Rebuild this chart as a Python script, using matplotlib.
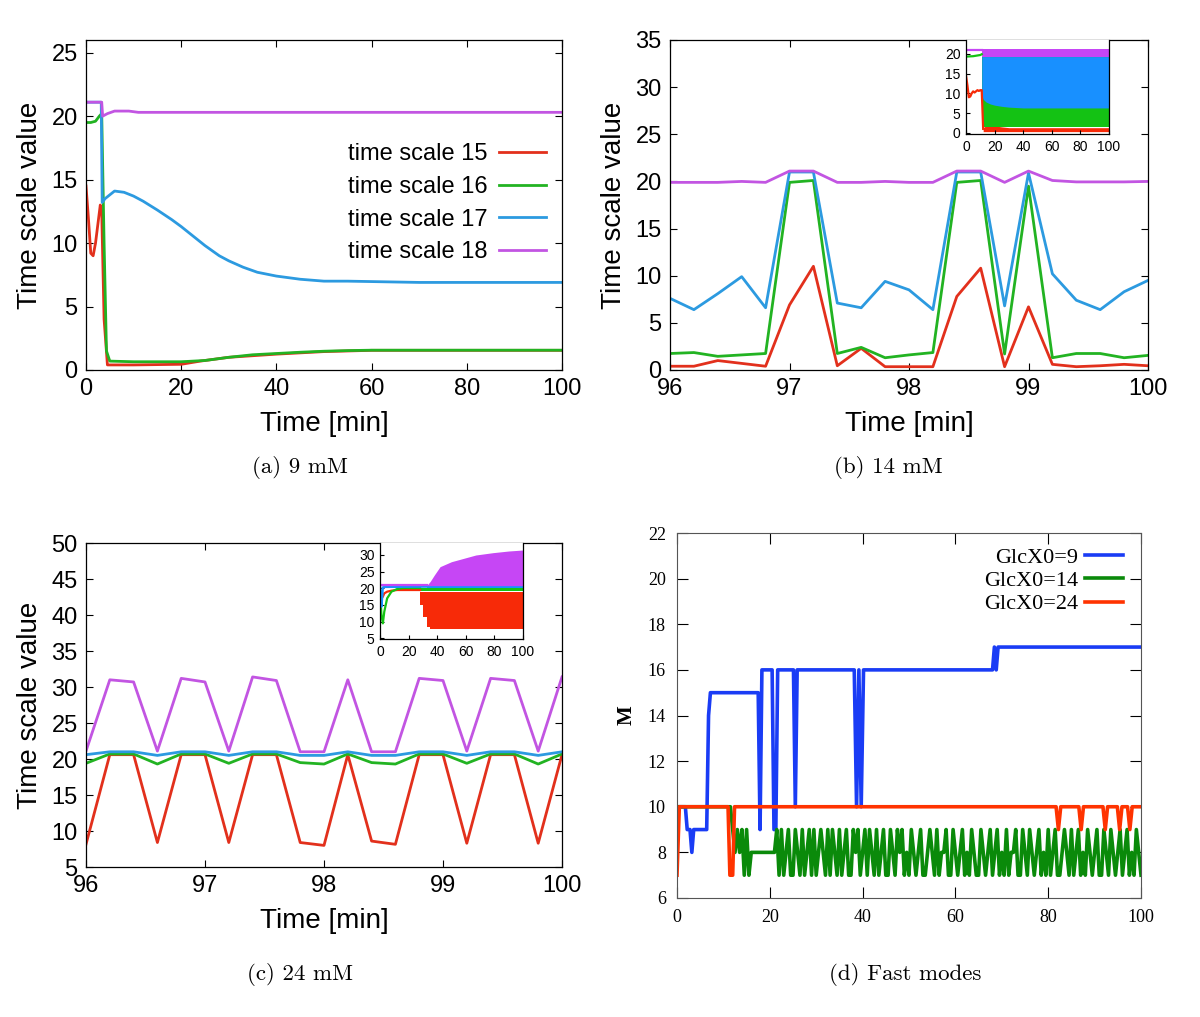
import numpy as np
import matplotlib
matplotlib.use("Agg")
import matplotlib.pyplot as plt

# ---------------- data ----------------
# (a) 9 mM, time scales 15-18 over 0..100 min
a_t15 = [0, 0.5, 1, 1.5, 2, 2.5, 3, 3.3, 3.8, 4.5, 10, 20, 24, 30, 40, 50, 60, 100]
a_v15 = [14.5, 12, 9.2, 9.0, 10, 11.5, 13, 12.5, 4, 0.4, 0.4, 0.45, 0.7, 1.0, 1.25, 1.45, 1.55, 1.55]
a_t16 = [0, 1, 2, 2.8, 3.3, 3.8, 4.3, 5, 10, 20, 25, 30, 35, 40, 45, 50, 55, 60, 70, 100]
a_v16 = [19.5, 19.5, 19.6, 20.0, 20.2, 10, 1.5, 0.7, 0.65, 0.65, 0.75, 1.0, 1.2, 1.3, 1.4, 1.48, 1.53, 1.56, 1.56, 1.56]
a_t17 = [0, 3.2, 3.4, 4, 6, 8, 10, 12, 15, 18, 20, 22, 25, 28, 30, 33, 36, 40, 45, 50, 55, 70, 100]
a_v17 = [21.1, 21.1, 13.2, 13.5, 14.1, 14.0, 13.7, 13.3, 12.6, 11.85, 11.3, 10.7, 9.8, 9.0, 8.6, 8.1, 7.7, 7.4, 7.15, 7.0, 7.0, 6.9, 6.9]
a_t18 = [0, 3.3, 3.5, 4.5, 6, 9, 11, 100]
a_v18 = [21.1, 21.1, 20.0, 20.2, 20.4, 20.4, 20.3, 20.3]

# (b) 14 mM, 96..100 min, sampled every 0.2 min
b_t = [96.0, 96.2, 96.4, 96.6, 96.8, 97.0, 97.2, 97.4, 97.6, 97.8, 98.0,
       98.2, 98.4, 98.6, 98.8, 99.0, 99.2, 99.4, 99.6, 99.8, 100.0]
b_v15 = [0.4, 0.4, 1.0, 0.7, 0.4, 6.9, 11.0, 0.45, 2.3, 0.35, 0.35,
         0.35, 7.8, 10.8, 0.35, 6.7, 0.6, 0.35, 0.45, 0.6, 0.45]
b_v16 = [1.75, 1.85, 1.45, 1.6, 1.75, 19.9, 20.1, 1.75, 2.4, 1.3, 1.6,
         1.85, 19.9, 20.1, 1.7, 19.5, 1.3, 1.75, 1.75, 1.3, 1.55]
b_v17 = [7.6, 6.4, 8.1, 9.9, 6.6, 21.0, 21.0, 7.1, 6.6, 9.4, 8.5,
         6.4, 21.0, 21.0, 6.8, 20.9, 10.2, 7.4, 6.4, 8.3, 9.5]
b_v18 = [19.9, 19.9, 19.9, 20.0, 19.9, 21.1, 21.1, 19.9, 19.9, 20.0, 19.9,
         19.9, 21.1, 21.1, 19.9, 21.1, 20.1, 19.95, 19.95, 19.95, 20.0]

# (b) inset, whole run 0..100 min (envelopes of the fast oscillation)
bi_t15 = [0, 1, 2, 3, 4, 5, 6, 7, 8, 9, 10, 11, 12]
bi_v15 = [14.5, 12, 9, 9.2, 10, 10.5, 10.2, 10.5, 10.8, 10.6, 10.8, 10.8, 1.0]
bi_band15_t = [12, 14, 19, 25, 30, 100]
bi_band15_lo = [0.3, 0.3, 0.3, 0.3, 0.3, 0.3]
bi_band15_hi = [1.3, 1.8, 1.8, 1.5, 1.3, 1.3]
bi_t16 = [0, 5, 10, 11]
bi_v16 = [19.3, 19.4, 19.7, 19.9]
bi_band16_t = [11, 100]
bi_band16_lo = [1.5, 1.5]
bi_band16_hi = [20, 20]
bi_band17_t = [11, 12, 14, 17, 20, 25, 30, 40, 60, 100]
bi_band17_lo = [9.5, 8.5, 7.8, 7.3, 7.0, 6.7, 6.5, 6.3, 6.3, 6.3]
bi_band17_hi = [19.3] * 10
bi_t18 = [0, 11]
bi_v18 = [20.9, 20.9]
bi_band18_t = [11, 100]
bi_band18_lo = [19.3, 19.3]
bi_band18_hi = [21.2, 21.2]

# (c) 24 mM, 96..100 min
c_t = b_t
c_v15 = [8.15, 20.6, 20.6, 8.4, 20.6, 20.6, 8.4, 20.6, 20.6, 8.4, 8.0,
         20.6, 8.6, 8.15, 20.6, 20.6, 8.3, 20.6, 20.6, 8.3, 20.6]
c_v16 = [19.4, 20.7, 20.7, 19.3, 20.7, 20.7, 19.4, 20.7, 20.7, 19.5, 19.3,
         20.7, 19.5, 19.3, 20.7, 20.7, 19.4, 20.7, 20.7, 19.3, 20.7]
c_v17 = [20.6, 21.0, 21.0, 20.5, 21.0, 21.0, 20.5, 21.0, 21.0, 20.5, 20.5,
         21.0, 20.5, 20.5, 21.0, 21.0, 20.5, 21.0, 21.0, 20.5, 21.0]
c_v18 = [21.1, 31.0, 30.7, 21.1, 31.2, 30.7, 21.1, 31.4, 30.9, 21.0, 21.0,
         31.0, 21.0, 21.0, 31.2, 30.9, 21.1, 31.2, 30.9, 21.1, 31.4]

# (c) inset
ci_t15 = [1, 2, 3, 5, 8, 12, 28]
ci_v15 = [17, 17.5, 18.5, 19, 19.3, 19.5, 19.5]
ci_band15_t = [28, 30.2, 30.2, 32.6, 32.6, 34.9, 34.9, 100]
ci_band15_lo = [15, 15, 11.4, 11.4, 8.4, 8.4, 7.7, 7.7]
ci_band15_hi = [19, 19, 19, 19, 19, 19, 19, 19]
ci_t16 = [0, 1, 2, 3, 5, 8, 12, 16, 28]
ci_v16 = [20, 12, 9.5, 13, 17, 19, 19.8, 20.1, 20.1]
ci_band16_t = [28, 100]
ci_band16_lo = [19.2, 19.2]
ci_band16_hi = [20.1, 20.1]
ci_t17 = [0, 0.5, 1, 1.5, 2, 3, 33]
ci_v17 = [21, 17, 14.5, 17, 20.3, 20.4, 20.5]
ci_band17_t = [33, 100]
ci_band17_lo = [20.1, 20.1]
ci_band17_hi = [20.9, 20.9]
ci_t18 = [0, 33]
ci_v18 = [20.9, 20.9]
ci_band18_t = [33, 35, 38, 42, 50, 56, 67, 79, 90, 100]
ci_band18_lo = [20.8] * 10
ci_band18_hi = [21, 22, 24, 26.5, 28, 28.7, 30, 30.7, 31.2, 31.5]

# (d) fast modes M(t)
d_t9 = [0, 1.8, 2.2, 2.8, 3.2, 3.6, 6.4, 6.8, 7.2, 17.5, 17.9, 18.3, 20.5, 20.9, 21.3, 21.7,
        25.1, 25.5, 25.9, 38.2, 38.7, 39.2, 39.7, 40.2, 68.0, 68.4, 68.8, 69.2, 100]
d_v9 = [10, 10, 9, 9, 8, 9, 9, 14, 15, 15, 9, 16, 16, 9, 9, 16,
        16, 10, 16, 16, 10, 16, 10, 16, 16, 17, 16, 17, 17]
d_v14 = ([10] * 24 + [9, 8, 9, 8, 9, 7, 9, 7, 8] + [8] * 10 +
         [9, 7, 9, 7, 8, 9, 7, 7, 9, 8,
          7, 9, 7, 8, 9, 7, 9, 7, 8, 9,
          8, 7, 9, 7, 9, 8, 7, 9, 7, 8,
          9, 7, 7, 9, 8, 9, 7, 8, 9, 7,
          9, 8, 7, 9, 7, 8, 9, 7, 7, 9,
          8, 7, 9] +
         [8, 9, 7, 8, 7, 9, 8, 7, 8, 9,
          7, 7, 8, 9, 8, 7, 9, 7, 8, 8,
          9, 7, 7, 9, 8, 7, 8, 9, 7, 8,
          7, 9, 8, 7, 7, 9, 8, 7, 8, 9,
          7, 8, 9, 7, 8, 7, 9, 7, 8, 8,
          9, 7, 7, 9, 8, 7, 9, 8, 7, 8,
          9, 7, 8, 7, 9, 7, 8, 9, 7, 7,
          8, 9, 8, 7, 9, 7, 8, 9, 7, 8,
          7, 9, 8, 7, 8, 9, 7, 7, 9, 8,
          7, 9, 8, 7, 8, 9, 7, 8, 9, 7,
          8, 7, 9, 8, 7])
d_t14 = np.arange(len(d_v14)) * 0.5
d_t24 = [0, 0.5, 11.0, 11.4, 12.0, 12.4, 81.7, 82.2, 82.7, 86.6, 87.1, 87.6,
         91.8, 92.3, 92.8, 94.9, 95.4, 95.9, 97.1, 97.6, 98.1, 100]
d_v24 = [7, 10, 10, 7, 7, 10, 10, 9, 10, 10, 9, 10,
         10, 9, 10, 10, 9, 10, 10, 9, 10, 10]

labels_ts = ["time scale 15", "time scale 16", "time scale 17", "time scale 18"]
labels_d = ["GlcX0=9", "GlcX0=14", "GlcX0=24"]
captions = ["(a) 9 mM", "(b) 14 mM", "(c) 24 mM", "(d) Fast modes"]

# ---------------- style ----------------
C15, C16, C17, C18 = "#e2301c", "#22b322", "#2c9ae0", "#c255e2"
F15, F16, F17, F18 = "#f72a08", "#14c214", "#1890ff", "#c646f5"
D9, D14, D24 = "#1a3cf5", "#0a8a0a", "#ff3300"
SANS = "Liberation Sans"
SERIF = "Liberation Serif"

W, H = 1200, 1017
fig = plt.figure(figsize=(W / 100, H / 100), dpi=100)


def px_axes(l, t, r, b):
    return fig.add_axes([l / W, 1 - b / H, (r - l) / W, (b - t) / H])


def gp_style(ax, size, family=SANS):
    ax.tick_params(direction="in", top=True, right=True, length=5, width=0.8,
                   labelsize=size, pad=6)
    for lab in ax.get_xticklabels() + ax.get_yticklabels():
        lab.set_family(family)
    for s in ax.spines.values():
        s.set_linewidth(0.9)


LW = 2.0

# ---- (a)
ax = px_axes(86, 40, 562, 370)
ax.plot(a_t15, a_v15, color=C15, lw=LW, label=labels_ts[0])
ax.plot(a_t16, a_v16, color=C16, lw=LW, label=labels_ts[1])
ax.plot(a_t17, a_v17, color=C17, lw=LW, label=labels_ts[2])
ax.plot(a_t18, a_v18, color=C18, lw=LW, label=labels_ts[3])
ax.set_xlim(0, 100)
ax.set_ylim(0, 26)
ax.set_xticks([0, 20, 40, 60, 80, 100])
ax.set_yticks([0, 5, 10, 15, 20, 25])
gp_style(ax, 17)
ax.set_xlabel("Time [min]", family=SANS, fontsize=20, labelpad=8)
ax.set_ylabel("Time scale value", family=SANS, fontsize=20, labelpad=6)
ax.legend(loc="upper left", bbox_to_anchor=(0.53, 0.715), frameon=False,
          markerfirst=False, prop={"family": SANS, "size": 17},
          handlelength=2.0, handletextpad=0.5, labelspacing=0.45,
          borderaxespad=0)
fig.text(300 / W, 1 - 467 / H, captions[0], family="cmr10", fontsize=16.5,
         ha="center", va="center")

# ---- (b)
ax = px_axes(670, 40, 1148, 370)
ax.plot(b_t, b_v15, color=C15, lw=LW)
ax.plot(b_t, b_v16, color=C16, lw=LW)
ax.plot(b_t, b_v17, color=C17, lw=LW)
ax.plot(b_t, b_v18, color=C18, lw=LW)
ax.set_xlim(96, 100)
ax.set_ylim(0, 35)
ax.set_xticks([96, 97, 98, 99, 100])
ax.set_yticks([0, 5, 10, 15, 20, 25, 30, 35])
gp_style(ax, 17)
ax.set_xlabel("Time [min]", family=SANS, fontsize=20, labelpad=8)
ax.set_ylabel("Time scale value", family=SANS, fontsize=20, labelpad=6)
fig.text(888 / W, 1 - 467 / H, captions[1], family="cmr10", fontsize=16.5,
         ha="center", va="center")

ins = px_axes(966, 40, 1109, 134)
ins.plot(bi_t15, bi_v15, color=F15, lw=1.6)
ins.fill_between(bi_band15_t, bi_band15_lo, bi_band15_hi, color=F15, lw=0)
ins.plot(bi_t16, bi_v16, color=F16, lw=1.6)
ins.fill_between(bi_band16_t, bi_band16_lo, bi_band16_hi, color=F16, lw=0)
ins.fill_between(bi_band17_t, bi_band17_lo, bi_band17_hi, color=F17, lw=0)
ins.plot(bi_t18, bi_v18, color=F18, lw=1.6)
ins.fill_between(bi_band18_t, bi_band18_lo, bi_band18_hi, color=F18, lw=0)
ins.set_xlim(0, 100)
ins.set_ylim(-0.3, 23.5)
ins.set_xticks([0, 20, 40, 60, 80, 100])
ins.set_yticks([0, 5, 10, 15, 20])
gp_style(ins, 10)
ins.tick_params(length=3, pad=4, top=False, right=False)
ins.spines["top"].set_visible(False)

# ---- (c)
ax = px_axes(86, 543, 562, 867)
ax.plot(c_t, c_v15, color=C15, lw=LW)
ax.plot(c_t, c_v16, color=C16, lw=LW)
ax.plot(c_t, c_v17, color=C17, lw=LW)
ax.plot(c_t, c_v18, color=C18, lw=LW)
ax.set_xlim(96, 100)
ax.set_ylim(5, 50)
ax.set_xticks([96, 97, 98, 99, 100])
ax.set_yticks([5, 10, 15, 20, 25, 30, 35, 40, 45, 50])
gp_style(ax, 17)
ax.set_xlabel("Time [min]", family=SANS, fontsize=20, labelpad=8)
ax.set_ylabel("Time scale value", family=SANS, fontsize=20, labelpad=6)
fig.text(300 / W, 1 - 975 / H, captions[2], family="cmr10", fontsize=16.5,
         ha="center", va="center")

ins = px_axes(380, 543, 523, 639)
ins.plot(ci_t15, ci_v15, color=F15, lw=1.6)
ins.fill_between(ci_band15_t, ci_band15_lo, ci_band15_hi, color=F15, lw=0)
ins.plot(ci_t16, ci_v16, color=F16, lw=1.6)
ins.fill_between(ci_band16_t, ci_band16_lo, ci_band16_hi, color=F16, lw=0)
ins.plot(ci_t17, ci_v17, color=F17, lw=1.6)
ins.fill_between(ci_band17_t, ci_band17_lo, ci_band17_hi, color=F17, lw=0)
ins.plot(ci_t18, ci_v18, color=F18, lw=1.6)
ins.fill_between(ci_band18_t, ci_band18_lo, ci_band18_hi, color=F18, lw=0)
ins.set_xlim(0, 100)
ins.set_ylim(4.8, 33.6)
ins.set_xticks([0, 20, 40, 60, 80, 100])
ins.set_yticks([5, 10, 15, 20, 25, 30])
gp_style(ins, 10)
ins.tick_params(length=3, pad=4, top=False, right=False)
ins.spines["top"].set_visible(False)

# ---- (d)
ax = px_axes(677, 533, 1141, 898)
ax.plot(d_t9, d_v9, color=D9, lw=2.6, label=labels_d[0])
ax.plot(d_t14, d_v14, color=D14, lw=2.6, label=labels_d[1])
ax.plot(d_t24, d_v24, color=D24, lw=2.6, label=labels_d[2])
ax.set_xlim(0, 100)
ax.set_ylim(6, 22)
ax.set_xticks([0, 20, 40, 60, 80, 100])
ax.set_yticks([6, 8, 10, 12, 14, 16, 18, 20, 22])
gp_style(ax, 13, SERIF)
ax.tick_params(length=8, pad=8)
for s in ax.spines.values():
    s.set_color("#555555")
    s.set_linewidth(0.8)
ax.set_ylabel("M", family=SERIF, fontsize=15, fontweight="bold", labelpad=8)
ax.legend(loc="upper right", bbox_to_anchor=(0.98, 0.985), frameon=False,
          markerfirst=False, prop={"family": SERIF, "size": 16},
          handlelength=1.7, handletextpad=0.3, labelspacing=0.12,
          borderaxespad=0)
fig.text(905 / W, 1 - 975 / H, captions[3], family="cmr10", fontsize=16.5,
         ha="center", va="center")

fig.savefig("out.png", dpi=100)
